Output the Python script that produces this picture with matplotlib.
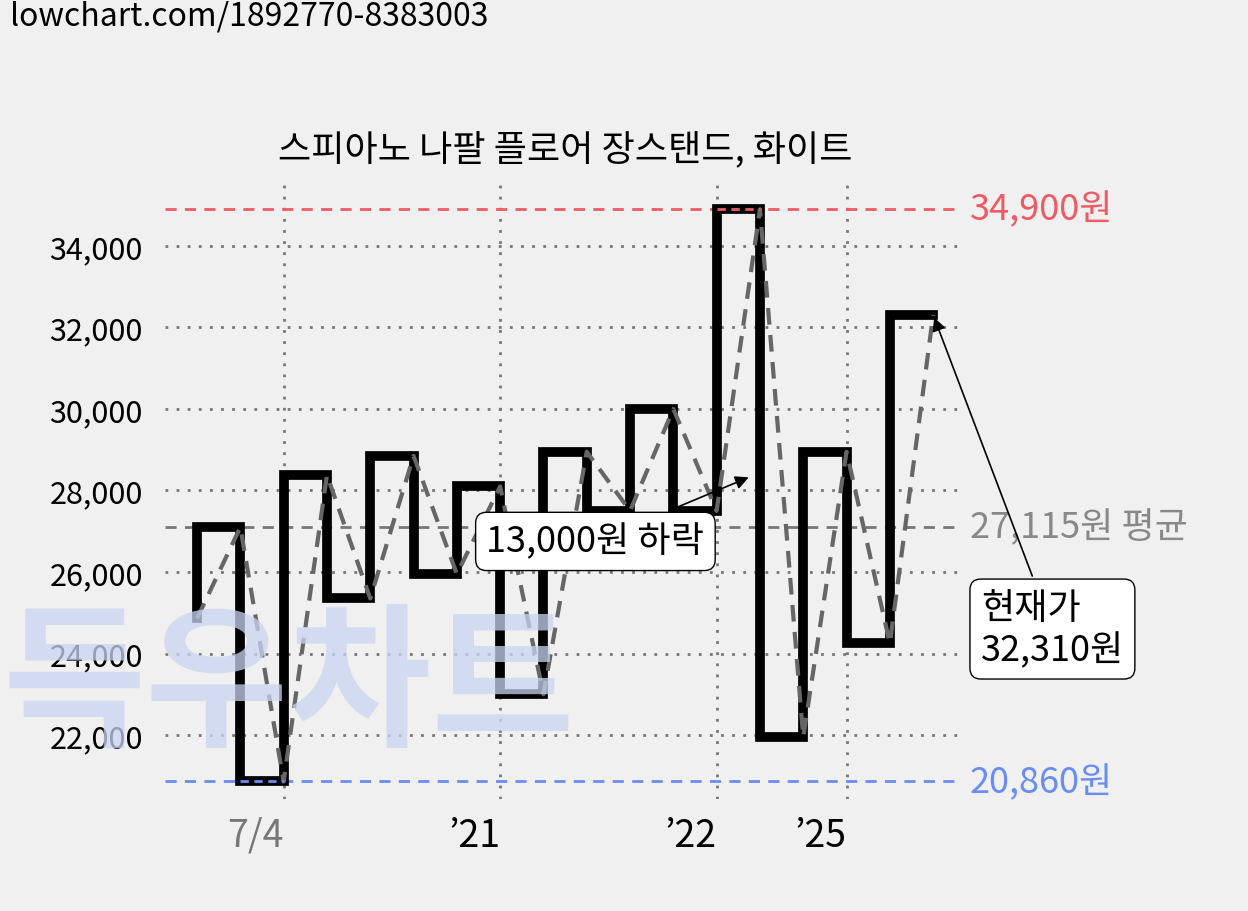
import matplotlib
matplotlib.use("Agg")
import matplotlib.pyplot as plt
import numpy as np

plt.rcParams['font.family'] = ['Noto Sans CJK KR', 'DejaVu Sans']

title = "스피아노 나팔 플로어 장스탠드, 화이트"
values = [24860, 27100, 20860, 28380, 25350, 28850, 25950, 28100, 23000, 28950,
          27500, 30000, 27500, 34900, 21950, 28950, 24250, 32310]
tick_pos = [2, 7, 12, 15]
tick_labels = ["7/4", "\u201921", "\u201922", "\u201925"]
tick_colors = ["#777777", "black", "black", "black"]
yticks = [22000, 24000, 26000, 28000, 30000, 32000, 34000]
max_v, min_v, mean_v, cur_v = 34900, 20860, 27115, 32310

fig = plt.figure(figsize=(12.48, 9.12), dpi=100)
fig.patch.set_facecolor("#f0f0f0")
ax = fig.add_axes([165/1248, 1-800/912, (960-165)/1248, (800-185)/912])
ax.set_facecolor("none")
x = np.arange(len(values))
ax.set_xlim(-0.74, 17.62)
ax.set_ylim(20430, 35520)
for s in ax.spines.values():
    s.set_visible(False)

fig.text(2/1248, 1-688/912, "득우차트", fontsize=112, color="#c8d4f0", alpha=0.75,
         fontweight="bold", va="center", ha="left", zorder=0, style="italic")

for yv in yticks:
    ax.axhline(yv, color="#777777", ls=(0, (1, 3)), lw=2, zorder=1)
for xv in tick_pos:
    ax.axvline(xv, color="#777777", ls=(0, (1, 3)), lw=2, zorder=1)
ax.axhline(max_v, color="#f05a64", ls=(0, (4, 3)), lw=2, zorder=1)
ax.axhline(min_v, color="#6a8cf5", ls=(0, (4, 3)), lw=2, zorder=1)
ax.axhline(mean_v, color="#777777", ls=(0, (4, 3)), lw=2, zorder=1)

ax.plot(x, values, drawstyle="steps-pre", color="black", lw=7, zorder=3,
        solid_joinstyle="miter")
ax.plot(x, values, color="#666666", ls=(0, (4, 2.5)), lw=3, zorder=4)
imax = values.index(max_v); imin = values.index(min_v)
ax.plot([imax-1, imax], [max_v, max_v], color="#f05a64", ls=(0, (3, 2)), lw=2, zorder=5)
ax.plot([imin-1, imin], [min_v, min_v], color="#6a8cf5", ls=(0, (3, 2)), lw=2, zorder=5)

ax.set_yticks(yticks)
ax.set_yticklabels([f"{v:,}" for v in yticks], fontsize=22)
ax.set_xticks(tick_pos)
ax.set_xticklabels(tick_labels, fontsize=27, ha="right")
for lab, c in zip(ax.get_xticklabels(), tick_colors):
    lab.set_color(c)
ax.tick_params(length=0, pad=12)
ax.tick_params(axis="y", pad=16)

ax.text(1.012, max_v, f"{max_v:,}원", transform=ax.get_yaxis_transform(),
        color="#f05a64", fontsize=26, va="center")
ax.text(1.012, min_v, f"{min_v:,}원", transform=ax.get_yaxis_transform(),
        color="#6a8cf5", fontsize=26, va="center")
ax.text(1.012, mean_v, f"{mean_v:,}원 평균", transform=ax.get_yaxis_transform(),
        color="#888888", fontsize=26, va="center")

bbox = dict(boxstyle="round,pad=0.3,rounding_size=0.3", fc="white", ec="black", lw=1)
ax.annotate("13,000원 하락", xy=(12.8, 28350), xytext=(9.2, 26750),
            fontsize=26, ha="center", va="center", bbox=bbox,
            arrowprops=dict(arrowstyle="-|>", color="black", lw=1.2, mutation_scale=20), zorder=6)
ax.annotate("현재가\n32,310원", xy=(17, cur_v), xytext=(18.1, 24600),
            fontsize=26, ha="left", va="center", bbox=bbox, annotation_clip=False,
            arrowprops=dict(arrowstyle="-|>", color="black", lw=1.2, mutation_scale=20), zorder=6)

fig.text(565/1248, 1-150/912, title, fontsize=26, ha="center", va="center")
fig.text(10/1248, 1-17/912, "lowchart.com/1892770-8383003", fontsize=23, va="center")

fig.savefig("out.png", dpi=100, facecolor=fig.get_facecolor())
